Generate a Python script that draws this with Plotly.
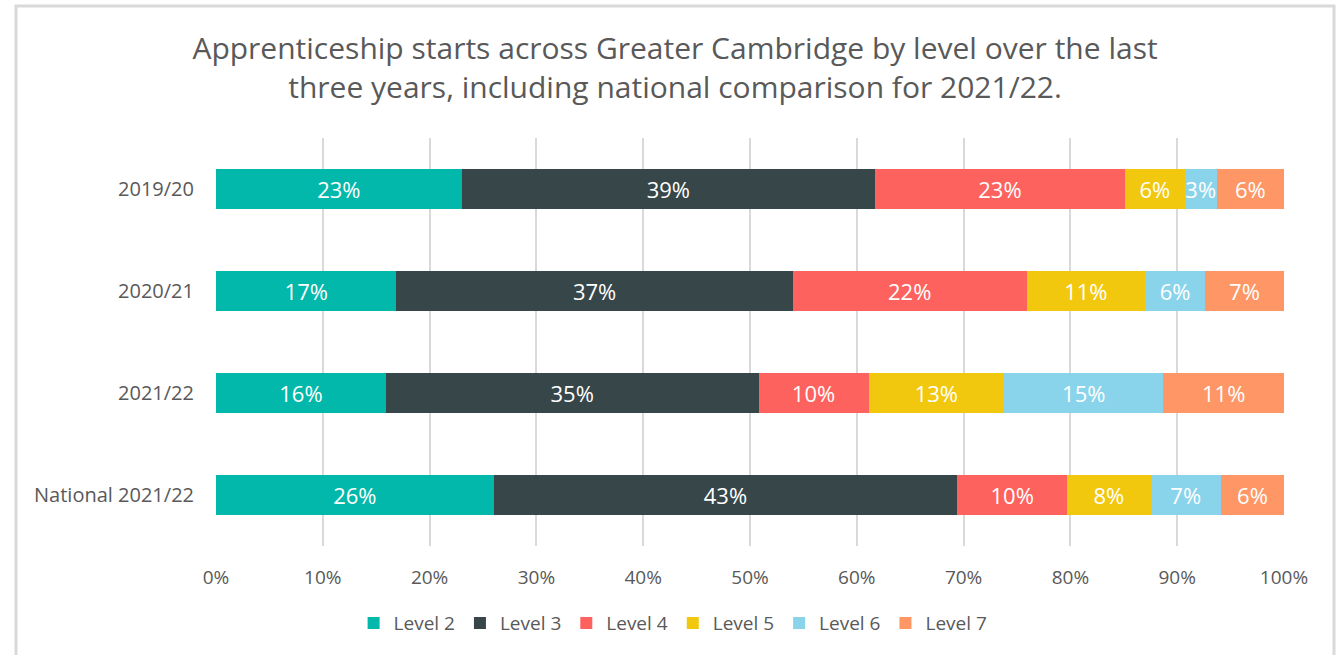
import plotly.graph_objects as go

categories = ["2019/20", "2020/21", "2021/22", "National 2021/22"]
levels = ["Level 2", "Level 3", "Level 4", "Level 5", "Level 6", "Level 7"]
level2 = [23.0, 16.9, 15.9, 26.0]
level3 = [38.7, 37.1, 34.9, 43.4]
level4 = [23.4, 21.9, 10.3, 10.3]
level5 = [5.6, 11.1, 12.7, 7.8]
level6 = [3.0, 5.6, 14.9, 6.6]
level7 = [6.3, 7.4, 11.3, 5.9]
x_ticks = [0, 10, 20, 30, 40, 50, 60, 70, 80, 90, 100]
x_tick_labels = ["0%", "10%", "20%", "30%", "40%", "50%", "60%", "70%", "80%", "90%", "100%"]

series = [level2, level3, level4, level5, level6, level7]
colors = ["#01B8AA", "#374649", "#FD625E", "#F2C80F", "#8AD4EB", "#FE9666"]

FONT = "Open Sans"
GREY = "#595959"

fig = go.Figure()
for name, vals, col in zip(levels, series, colors):
    fig.add_trace(go.Bar(
        y=categories, x=vals, name=name, orientation="h",
        marker=dict(color=col, line=dict(width=0)),
        texttemplate="%{x:.0f}%", textposition="inside", textangle=0,
        insidetextanchor="middle", constraintext="none",
        textfont=dict(family=FONT, size=22, color="white"),
        hovertemplate="%{y}<br>" + name + ": %{x:.1f}%<extra></extra>",
    ))

fig.update_layout(
    width=1342, height=655,
    barmode="stack", bargap=0.6,
    paper_bgcolor="white", plot_bgcolor="white",
    margin=dict(l=216, r=58, t=138, b=109),
    font=dict(family=FONT, color=GREY),
    title=dict(
        text="Apprenticeship starts across Greater Cambridge by level over the last<br>three years, including national comparison for 2021/22.",
        x=0.503, xanchor="center", y=1 - 58.5 / 655, yanchor="middle",
        font=dict(family=FONT, size=30, color=GREY),
    ),
    legend=dict(
        orientation="h", x=0.428, xanchor="center", y=-0.189, yanchor="middle",
        font=dict(family=FONT, size=19, color=GREY),
        traceorder="normal", itemwidth=30,
    ),
    xaxis=dict(
        range=[0, 100], tickvals=x_ticks, ticktext=x_tick_labels,
        showgrid=True, gridcolor="#D9D9D9", gridwidth=1.5,
        zeroline=False, showline=False,
        tickfont=dict(family=FONT, size=19, color=GREY),
        ticklabelstandoff=18, fixedrange=True,
    ),
    yaxis=dict(
        autorange="reversed", showgrid=False, zeroline=False, showline=False,
        tickfont=dict(family=FONT, size=20, color=GREY),
        ticklabelstandoff=21, fixedrange=True,
    ),
    shapes=[dict(
        type="rect", xref="paper", yref="paper",
        x0=(16 - 216) / 1068, x1=(1334 - 216) / 1068,
        y0=(546 - 700) / 408, y1=(546 - 6) / 408,
        line=dict(color="#D9D9D9", width=3), fillcolor="rgba(0,0,0,0)",
        layer="below",
    )],
)

fig.write_html("out.html", config={"displayModeBar": False},
               post_script="document.body.style.margin='0';")
